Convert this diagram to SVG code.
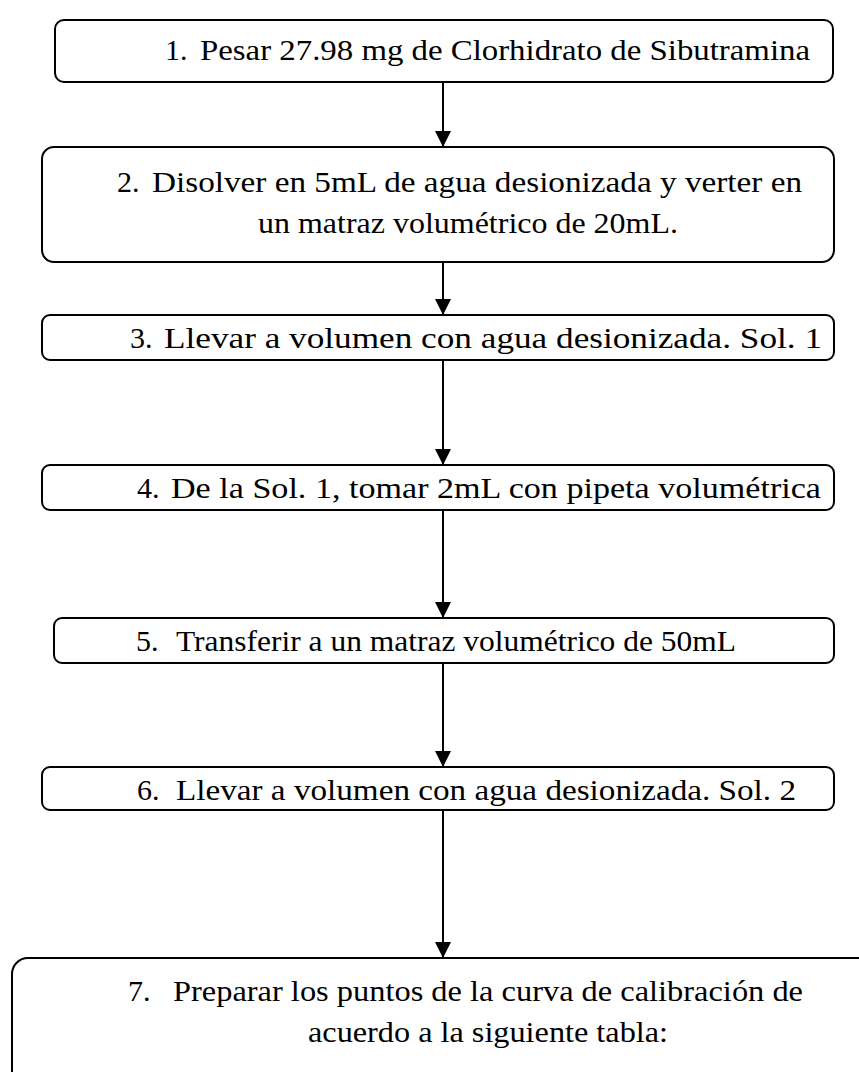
<svg xmlns="http://www.w3.org/2000/svg" width="859" height="1072" viewBox="0 0 859 1072">
<style>
.box{fill:#fff;stroke:#000;stroke-width:2}
.t{font-family:"Liberation Serif","Times New Roman",serif;font-size:30px;fill:#000}
.c{stroke:#000;stroke-width:2;fill:none}
</style>
<defs>
<marker id="ah" viewBox="0 0 16 16" markerWidth="16" markerHeight="16" refX="16" refY="8" orient="auto" markerUnits="userSpaceOnUse">
<path d="M0,0 L16,8 L0,16 Z" fill="#000"/>
</marker>
</defs>
<rect width="859" height="1072" fill="#fff"/>
<g id="connectors">
<line class="c" x1="443" y1="82" x2="443" y2="147" marker-end="url(#ah)"/>
<line class="c" x1="443" y1="262" x2="443" y2="315" marker-end="url(#ah)"/>
<line class="c" x1="443" y1="360" x2="443" y2="465" marker-end="url(#ah)"/>
<line class="c" x1="443" y1="510" x2="443" y2="618" marker-end="url(#ah)"/>
<line class="c" x1="443" y1="663" x2="443" y2="767" marker-end="url(#ah)"/>
<line class="c" x1="443" y1="810" x2="443" y2="958" marker-end="url(#ah)"/>
</g>
<g id="n1">
<rect class="box" x="55" y="20" width="778" height="62" rx="9"/>
<text class="t" x="165" y="60">1.</text>
<text class="t" x="200" y="60" textLength="610" lengthAdjust="spacingAndGlyphs">Pesar 27.98 mg de Clorhidrato de Sibutramina</text>
</g>
<g id="n2">
<rect class="box" x="42" y="147" width="792" height="115" rx="12"/>
<text class="t" x="117" y="192">2.</text>
<text class="t" x="152" y="192" textLength="650" lengthAdjust="spacingAndGlyphs">Disolver en 5mL de agua desionizada y verter en</text>
<text class="t" x="258" y="233" textLength="420" lengthAdjust="spacingAndGlyphs">un matraz volumétrico de 20mL.</text>
</g>
<g id="n3">
<rect class="box" x="42" y="315" width="792" height="45" rx="8"/>
<text class="t" x="130" y="348">3.</text>
<text class="t" x="164" y="348" textLength="658" lengthAdjust="spacingAndGlyphs">Llevar a volumen con agua desionizada. Sol. 1</text>
</g>
<g id="n4">
<rect class="box" x="42" y="465" width="792" height="45" rx="8"/>
<text class="t" x="137" y="498">4.</text>
<text class="t" x="171" y="498" textLength="650" lengthAdjust="spacingAndGlyphs">De la Sol. 1, tomar 2mL con pipeta volumétrica</text>
</g>
<g id="n5">
<rect class="box" x="54" y="618" width="780" height="45" rx="8"/>
<text class="t" x="136" y="651">5.</text>
<text class="t" x="176" y="651" textLength="560" lengthAdjust="spacingAndGlyphs">Transferir a un matraz volumétrico de 50mL</text>
</g>
<g id="n6">
<rect class="box" x="42" y="767" width="792" height="43" rx="8"/>
<text class="t" x="137" y="800">6.</text>
<text class="t" x="176" y="800" textLength="620" lengthAdjust="spacingAndGlyphs">Llevar a volumen con agua desionizada. Sol. 2</text>
</g>
<g id="n7">
<rect class="box" x="12" y="958" width="870" height="130" rx="16"/>
<text class="t" x="128" y="1001">7.</text>
<text class="t" x="173" y="1001" textLength="630" lengthAdjust="spacingAndGlyphs">Preparar los puntos de la curva de calibración de</text>
<text class="t" x="308" y="1042" textLength="360" lengthAdjust="spacingAndGlyphs">acuerdo a la siguiente tabla:</text>
</g>
</svg>
